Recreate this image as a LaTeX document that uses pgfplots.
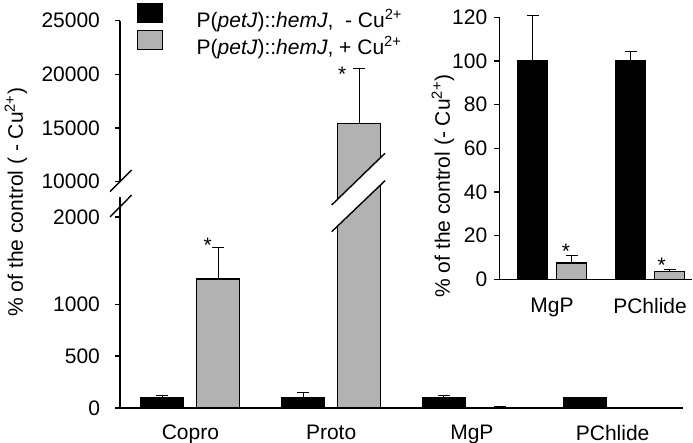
\documentclass[border=0pt]{standalone}
\usepackage{pgfplots}
\usepackage{pgfplotstable}
\pgfplotsset{compat=1.18}
\usepackage{fontspec}
\setmainfont{Liberation Sans}
\definecolor{bargray}{RGB}{178,178,178}

% main chart data (percent of control)
\pgfplotstableread{
x y e
0 100 16
1 100 47
2 100 18
3 100 4
}\ctrl
\pgfplotstableread{
x y e
0 1290 300
1 15400 5100
2 7.5 3.5
3 3.5 0.8
}\cu
% inset data
\pgfplotstableread{
x y e
0 100 21
1 100 4.5
}\ictrl
\pgfplotstableread{
x y e
0 7.5 3.5
1 3.5 0.8
}\icu

\pgfplotsset{
  base/.style={
    scale only axis, anchor=south west, ybar,
    axis x line*=bottom, axis y line*=left,
    axis line style={-, line width=0.7pt},
    tick align=outside, major tick length=2.5pt,
    every tick/.style={black, line width=0.7pt},
    x tick style={draw=none},
    scaled y ticks=false,
    /pgf/number format/assume math mode=true,
    tick label style={font=\fontsize{10.5}{12}\selectfont},
  },
  errs/.style={
    /pgfplots/error bars/y dir=plus,
    /pgfplots/error bars/y explicit,
    /pgfplots/error bars/error bar style={black, line width=0.5pt},
    /pgfplots/error bars/error mark options={rotate=90, mark size=3pt, black, line width=0.5pt}},
  blk/.style={fill=black, draw=black, line width=0.6pt, errs},
  gry/.style={fill=bargray, draw=black, line width=0.6pt, errs},
}

\begin{document}
\begin{tikzpicture}[font=\fontsize{10.5}{12}\selectfont]
% upper part of the broken axis
\begin{axis}[base, at={(60pt,-102.5pt)}, width=281.5pt, height=92.15pt,
  xmin=-0.5, xmax=3.5, ymin=7828, ymax=25000,
  axis x line=none, y axis line style={draw=none},
  ytick={10000,15000,20000,25000}, yticklabels={10000,15000,20000,25000},
  yticklabel style={xshift=-4pt},
  xtick=\empty, bar width=21.5pt,
  legend style={at={(0.0297,1.099)}, anchor=north west, draw=none, fill=none,
    inner sep=0pt, row sep=-1.25pt, nodes={inner sep=1pt},
    font=\fontsize{10.5}{12}\selectfont},
  legend cell align=left,
  legend image code/.code={\draw[#1, line width=0.6pt] (0pt,-1.3pt) rectangle (12.5pt,8.2pt); \path[draw=none,fill=none] (0pt,0pt)--(28.5pt,0pt);}]
\addlegendimage{fill=black, draw=black}
\addlegendentry{P(\textit{petJ})::\textit{hemJ},\ \ - Cu\textsuperscript{2+}}
\addlegendimage{fill=bargray, draw=black}
\addlegendentry{P(\textit{petJ})::\textit{hemJ}, + Cu\textsuperscript{2+}}
\addplot[bar shift=14pt, gry, forget plot, restrict y to domain=5000:30000] table[x=x, y=y, y error=e] {\cu};
\node[anchor=base] at (axis cs:1.079,19380) {*};
\end{axis}
% lower part of the broken axis
\begin{axis}[base, at={(60pt,-204pt)}, width=281.5pt, height=114pt,
  xmin=-0.5, xmax=3.5, ymin=0, ymax=2427,
  y coord trafo/.code={\pgfmathparse{(#1<=1000)*(#1)+(#1>1000)*(1000+0.84*(#1-1000))}},
  y axis line style={draw=none},
  ytick={0,500,1000,2000}, yticklabels={0,500,1000,2000},
  yticklabel style={xshift=-4pt},
  xtick={0,1,2,3}, xticklabels={Copro,Proto,MgP,PChlide},
  xticklabel style={yshift=-2.5pt},
  bar width=21.5pt]
\addplot[bar shift=-14pt, blk] table[x=x, y=y, y error=e] {\ctrl};
\addplot[bar shift=14pt, gry] table[x=x, y=y, y error=e] {\cu};
\node[anchor=base] at (axis cs:0.124,1590) {*};
\end{axis}
% inset
\begin{axis}[base, at={(249.65pt,-139.65pt)}, width=96.2pt, height=131pt,
  xmin=-0.538, xmax=1.425, ymin=0, ymax=120, clip=false,
  ytick={0,20,...,120},
  xtick={0,1}, xticklabels={MgP,PChlide},
  xticklabel style={yshift=-3.5pt},
  bar width=15pt]
\addplot[bar shift=-9.75pt, blk] table[x=x, y=y, y error=e] {\ictrl};
\addplot[bar shift=9.75pt, gry] table[x=x, y=y, y error=e] {\icu};
\node[anchor=base] at (axis cs:0.143,9.3) {*};
\node[anchor=base] at (axis cs:1.119,3.0) {*};
\end{axis}
\begin{scope}[x=0.5pt, y=-0.5pt]
% broken axis lines and break marks
\draw[line width=0.7pt] (120,408)--(120,197);
\draw[line width=0.7pt] (120,181)--(120,20.7);
\draw[line width=0.7pt] (110,191.7)--(131.7,170);
\draw[line width=0.7pt] (110,217)--(131.7,195);
\fill[white] (331.7,205)--(385,153.3)--(385,180.7)--(331.7,231.7)--cycle;
\draw[line width=0.7pt] (331.7,205)--(385,153.3);
\draw[line width=0.7pt] (331.7,231.7)--(385,180.7);
% axis titles
\node[rotate=90] at (16,202) {\% of the control ( - Cu\textsuperscript{2+})};
\node[rotate=90] at (443,186) {\% of the control (- Cu\textsuperscript{2+})};
\pgfresetboundingbox
\path[use as bounding box] (0,0) rectangle (693,443);
\end{scope}
\end{tikzpicture}
\end{document}
